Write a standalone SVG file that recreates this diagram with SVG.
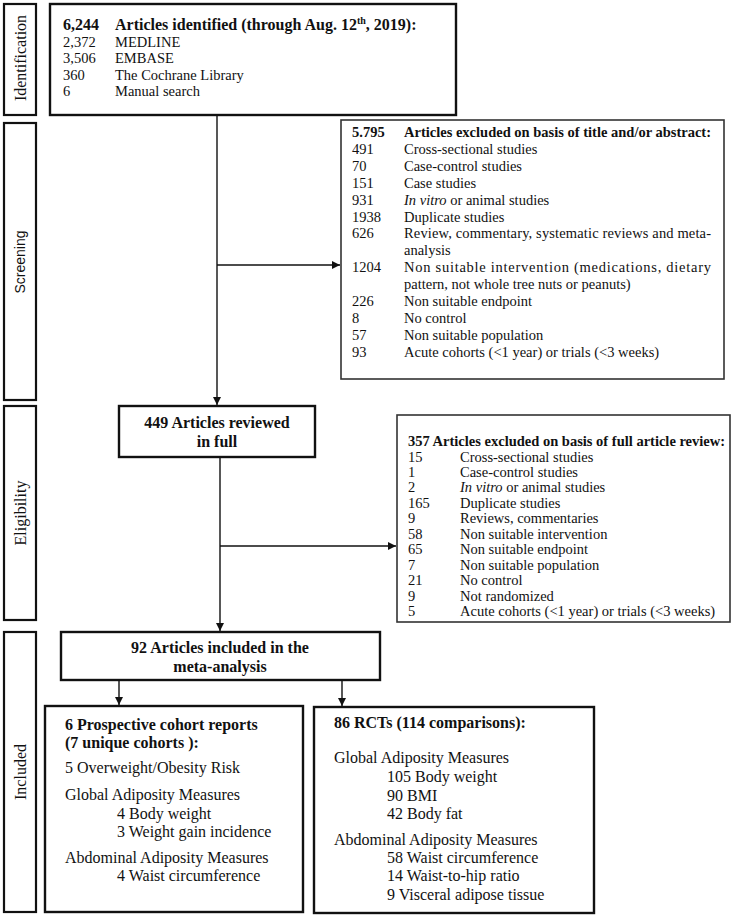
<svg xmlns="http://www.w3.org/2000/svg" width="744" height="917" viewBox="0 0 744 917">
<style>
text{font-family:"Liberation Serif","Times New Roman",serif;fill:#111}
.t{font-size:14.5px}
.b{font-weight:bold}
.h16{font-size:16px}
.side{fill:#fff;stroke:#111;stroke-width:2.2}
.box{fill:#fff;stroke:#111;stroke-width:2.4}
.ex{fill:#fff;stroke:#333;stroke-width:1.6}
.ln{stroke:#111;stroke-width:1.4;fill:none}
.lab{font-size:16px}
</style>
<defs>
<marker id="ah" viewBox="0 0 10 10" refX="10" refY="5" markerWidth="8" markerHeight="8" markerUnits="userSpaceOnUse" orient="auto">
<path d="M0,0 L10,5 L0,10 z" fill="#111"/>
</marker>
</defs>
<rect width="744" height="917" fill="#fff"/>

<g id="stage-identification">
<rect class="side" x="4" y="4" width="32" height="111"/>
<text class="lab" transform="translate(26,58) rotate(-90)" text-anchor="middle">Identification</text>
</g>
<g id="stage-screening">
<rect class="side" x="4" y="123" width="32" height="277"/>
<text transform="translate(25,262) rotate(-90)" text-anchor="middle" style="font-family:'Liberation Sans',Arial,sans-serif;font-size:14px">Screening</text>
</g>
<g id="stage-eligibility">
<rect class="side" x="4" y="406" width="32" height="214"/>
<text class="lab" transform="translate(26,513) rotate(-90)" text-anchor="middle">Eligibility</text>
</g>
<g id="stage-included">
<rect class="side" x="4" y="632" width="32" height="280"/>
<text class="lab" transform="translate(26,772) rotate(-90)" text-anchor="middle">Included</text>
</g>

<g id="connectors">
<line class="ln" x1="217" y1="115" x2="217" y2="405" marker-end="url(#ah)"/>
<line class="ln" x1="217" y1="265" x2="340" y2="265" marker-end="url(#ah)"/>
<line class="ln" x1="220" y1="457" x2="220" y2="631" marker-end="url(#ah)"/>
<line class="ln" x1="220" y1="546" x2="396" y2="546" marker-end="url(#ah)"/>
<line class="ln" x1="119" y1="680" x2="119" y2="705" marker-end="url(#ah)"/>
<line class="ln" x1="342" y1="680" x2="342" y2="706" marker-end="url(#ah)"/>
</g>

<g id="identified">
<rect class="box" x="50" y="4" width="406" height="111"/>
<text class="b h16" x="63" y="30">6,244</text>
<text class="b h16" x="115" y="30">Articles identified (through Aug. 12<tspan font-size="10" dy="-6">th</tspan><tspan dy="6">, 2019):</tspan></text>
<text class="t" x="63" y="46.5">2,372</text><text class="t" x="115" y="46.5">MEDLINE</text>
<text class="t" x="63" y="63">3,506</text><text class="t" x="115" y="63">EMBASE</text>
<text class="t" x="63" y="79.5">360</text><text class="t" x="115" y="79.5">The Cochrane Library</text>
<text class="t" x="63" y="96">6</text><text class="t" x="115" y="96">Manual search</text>
</g>

<g id="excluded-screening">
<rect class="ex" x="341" y="120" width="383" height="259"/>
<text class="t b" x="352" y="137">5.795</text>
<text class="t b" x="404" y="137">Articles excluded on basis of title and/or abstract:</text>
<text class="t" x="352" y="153.9">491</text><text class="t" x="404" y="153.9">Cross-sectional studies</text>
<text class="t" x="352" y="170.8">70</text><text class="t" x="404" y="170.8">Case-control studies</text>
<text class="t" x="352" y="187.7">151</text><text class="t" x="404" y="187.7">Case studies</text>
<text class="t" x="352" y="204.6">931</text><text class="t" x="404" y="204.6"><tspan font-style="italic">In vitro</tspan> or animal studies</text>
<text class="t" x="352" y="221.5">1938</text><text class="t" x="404" y="221.5">Duplicate studies</text>
<text class="t" x="352" y="238.4">626</text><text class="t" x="404" y="238.4" textLength="307" lengthAdjust="spacing">Review, commentary, systematic reviews and meta-</text>
<text class="t" x="404" y="255.3">analysis</text>
<text class="t" x="352" y="272.2">1204</text><text class="t" x="404" y="272.2" textLength="307" lengthAdjust="spacing">Non suitable intervention (medications, dietary</text>
<text class="t" x="404" y="289.1">pattern, not whole tree nuts or peanuts)</text>
<text class="t" x="352" y="306">226</text><text class="t" x="404" y="306">Non suitable endpoint</text>
<text class="t" x="352" y="322.9">8</text><text class="t" x="404" y="322.9">No control</text>
<text class="t" x="352" y="339.8">57</text><text class="t" x="404" y="339.8">Non suitable population</text>
<text class="t" x="352" y="356.7">93</text><text class="t" x="404" y="356.7">Acute cohorts (&lt;1 year) or trials (&lt;3 weeks)</text>
</g>

<g id="reviewed">
<rect class="box" x="119" y="406" width="196" height="51"/>
<text class="b h16" x="217" y="428" text-anchor="middle">449 Articles reviewed</text>
<text class="b h16" x="217" y="447" text-anchor="middle">in full</text>
</g>

<g id="excluded-eligibility">
<rect class="ex" x="397" y="415" width="333" height="207"/>
<text class="t b" x="408" y="446">357 Articles excluded on basis of full article review:</text>
<text class="t" x="408" y="461.5">15</text><text class="t" x="460" y="461.5">Cross-sectional studies</text>
<text class="t" x="408" y="476.9">1</text><text class="t" x="460" y="476.9">Case-control studies</text>
<text class="t" x="408" y="492.4">2</text><text class="t" x="460" y="492.4"><tspan font-style="italic">In vitro</tspan> or animal studies</text>
<text class="t" x="408" y="507.8">165</text><text class="t" x="460" y="507.8">Duplicate studies</text>
<text class="t" x="408" y="523.3">9</text><text class="t" x="460" y="523.3">Reviews, commentaries</text>
<text class="t" x="408" y="538.7">58</text><text class="t" x="460" y="538.7">Non suitable intervention</text>
<text class="t" x="408" y="554.2">65</text><text class="t" x="460" y="554.2">Non suitable endpoint</text>
<text class="t" x="408" y="569.6">7</text><text class="t" x="460" y="569.6">Non suitable population</text>
<text class="t" x="408" y="585.1">21</text><text class="t" x="460" y="585.1">No control</text>
<text class="t" x="408" y="600.5">9</text><text class="t" x="460" y="600.5">Not randomized</text>
<text class="t" x="408" y="616">5</text><text class="t" x="460" y="616">Acute cohorts (&lt;1 year) or trials (&lt;3 weeks)</text>
</g>

<g id="included">
<rect class="box" x="61" y="632" width="319" height="48"/>
<text class="b h16" x="220" y="653" text-anchor="middle">92 Articles included in the</text>
<text class="b h16" x="220" y="672" text-anchor="middle">meta-analysis</text>
</g>

<g id="cohorts">
<rect class="box" x="45" y="706" width="258" height="206"/>
<text class="b h16" x="65" y="730">6 Prospective cohort reports</text>
<text class="b h16" x="65" y="748">(7 unique cohorts ):</text>
<text class="h16" x="65" y="773">5 Overweight/Obesity Risk</text>
<text class="h16" x="65" y="800">Global Adiposity Measures</text>
<text class="h16" x="117" y="819">4 Body weight</text>
<text class="h16" x="117" y="837">3 Weight gain incidence</text>
<text class="h16" x="65" y="863">Abdominal Adiposity Measures</text>
<text class="h16" x="117" y="881">4 Waist circumference</text>
</g>

<g id="rcts">
<rect class="box" x="314" y="707" width="280" height="206"/>
<text class="b h16" x="334" y="728">86 RCTs (114 comparisons):</text>
<text class="h16" x="334" y="763">Global Adiposity Measures</text>
<text class="h16" x="387" y="782">105 Body weight</text>
<text class="h16" x="387" y="801">90 BMI</text>
<text class="h16" x="387" y="819">42 Body fat</text>
<text class="h16" x="334" y="845">Abdominal Adiposity Measures</text>
<text class="h16" x="387" y="863">58 Waist circumference</text>
<text class="h16" x="387" y="881">14 Waist-to-hip ratio</text>
<text class="h16" x="387" y="900">9 Visceral adipose tissue</text>
</g>
</svg>
